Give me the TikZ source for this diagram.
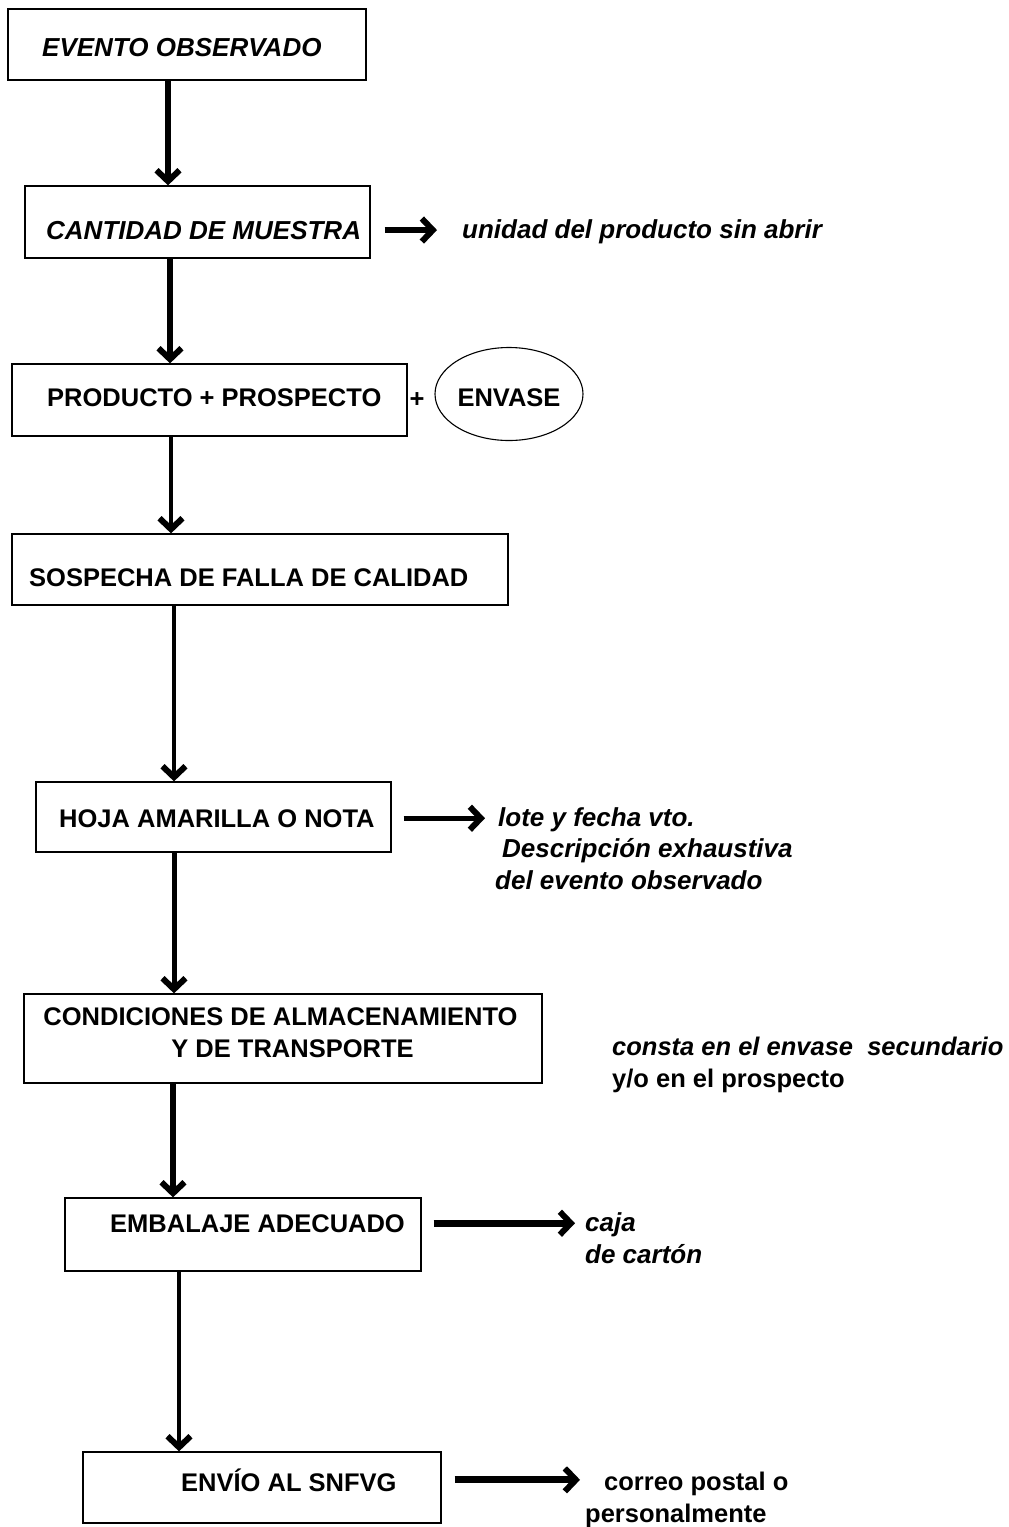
\documentclass[tikz,border=0pt]{standalone}
\usepackage{fontspec}
\setmainfont{Liberation Sans}
\usetikzlibrary{arrows.meta,shapes.geometric,calc}

\begin{document}
\begin{tikzpicture}[x=1pt, y=-1pt,
    box/.style = {draw, line width=1.3pt, inner sep=0pt},
    lbl/.style = {font=\fontsize{25.5}{31.5}\selectfont\bfseries, anchor=base west, inner sep=0pt, align=left},
    ilbl/.style = {lbl, font=\fontsize{26}{31.5}\selectfont\bfseries\itshape},
    flow/.style = {line width=#1, -{Straight Barb[length=11pt, width=23pt, line width=6pt]}},
    flow/.default = 5pt]
    \useasboundingbox (0,0) rectangle (1009,1527);
    % cajas
    \node[box, minimum width=358pt, minimum height=71pt] (evento) at (187,44.5) {};
    \node[box, minimum width=345pt, minimum height=72pt] (muestra) at (197.5,222) {};
    \node[box, minimum width=395pt, minimum height=72pt] (producto) at (209.5,400) {};
    \node[box, ellipse, line width=1.1pt, minimum width=148pt, minimum height=93pt, text height=26pt, font=\fontsize{25.5}{31.5}\selectfont\bfseries] (envase) at (509,394) {ENVASE};
    \node[box, minimum width=496pt, minimum height=71pt] (sospecha) at (260,569.5) {};
    \node[box, minimum width=355pt, minimum height=70pt] (hoja) at (213.5,817) {};
    \node[box, minimum width=518pt, minimum height=89pt] (condiciones) at (283,1038.5) {};
    \node[box, minimum width=356pt, minimum height=73pt] (embalaje) at (243,1234.5) {};
    \node[box, minimum width=358pt, minimum height=71pt] (envio) at (262,1487.5) {};
    % textos de las cajas
    \node[ilbl] (eventoT) at (42,56) {EVENTO OBSERVADO};
    \node[ilbl] (muestraT) at (46,239) {CANTIDAD DE MUESTRA};
    \node[lbl] (productoT) at (47,406) {PRODUCTO + PROSPECTO};
    \node[lbl, anchor=center] (mas) at (417,400) {+};
    \node[lbl] (sospechaT) at (29,586) {SOSPECHA DE FALLA DE CALIDAD};
    \node[lbl] (hojaT) at (59,827) {HOJA AMARILLA O NOTA};
    \node[lbl, align=center, anchor=base] (condicionesT) at (280.5,1057) {CONDICIONES DE ALMACENAMIENTO\\\hspace*{24pt}Y DE TRANSPORTE};
    \node[lbl] (embalajeT) at (110,1232) {EMBALAJE ADECUADO};
    \node[lbl] (envioT) at (181,1491) {ENVÍO AL SNFVG};
    % notas
    \node[ilbl] (unidad) at (462,238) {unidad del producto sin abrir};
    \node[ilbl] (lote) at (495,889) {\hspace*{3pt}lote y fecha vto.\\\hspace*{7pt}Descripción exhaustiva\\del evento observado};
    \node[lbl] (consta) at (612,1087) {{\itshape consta en el envase\ \ secundario}\\y/o en el prospecto};
    \node[ilbl] (caja) at (585,1263) {caja\\de cartón};
    \node[lbl] (correo) at (585,1522) {\hspace*{19pt}correo postal o\\personalmente};
    % flechas
    \draw[flow=6pt] ([xshift=-19pt]evento.south) -- ([xshift=-19pt]evento.south |- muestra.north);
    \draw[flow=6pt] ([xshift=-27.5pt]muestra.south) -- ([xshift=-27.5pt]muestra.south |- producto.north);
    \draw[flow=4.7pt] ([xshift=-38.5pt]producto.south) -- ([xshift=-38.5pt]producto.south |- sospecha.north);
    \draw[flow=4.5pt] ([xshift=-86pt]sospecha.south) -- ([xshift=-86pt]sospecha.south |- hoja.north);
    \draw[flow=5pt] ([xshift=-39.5pt]hoja.south) -- ([xshift=-39.5pt]hoja.south |- condiciones.north);
    \draw[flow=6pt] ([xshift=-110pt]condiciones.south) -- ([xshift=-110pt]condiciones.south |- embalaje.north);
    \draw[flow=4.6pt] ([xshift=-64pt]embalaje.south) -- ([xshift=-64pt]embalaje.south |- envio.north);
    \draw[flow=6.5pt] ($(muestra.east |- muestraT)+(14,0)$) -- ($(muestraT -| unidad.west)+(-25,0)$);
    \draw[flow=5pt] ($(hoja.east |- hojaT)+(12,0)$) -- ($(hojaT -| lote.west)+(-10,0)$);
    \draw[flow=7pt] ($(embalaje.east |- embalajeT)+(12,0)$) -- ($(embalajeT -| caja.west)+(-10,0)$);
    \draw[flow=7pt] ($(envio.east |- envioT)+(13,0)$) -- ($(envioT -| correo.west)+(-5,0)$);
\end{tikzpicture}
\end{document}
